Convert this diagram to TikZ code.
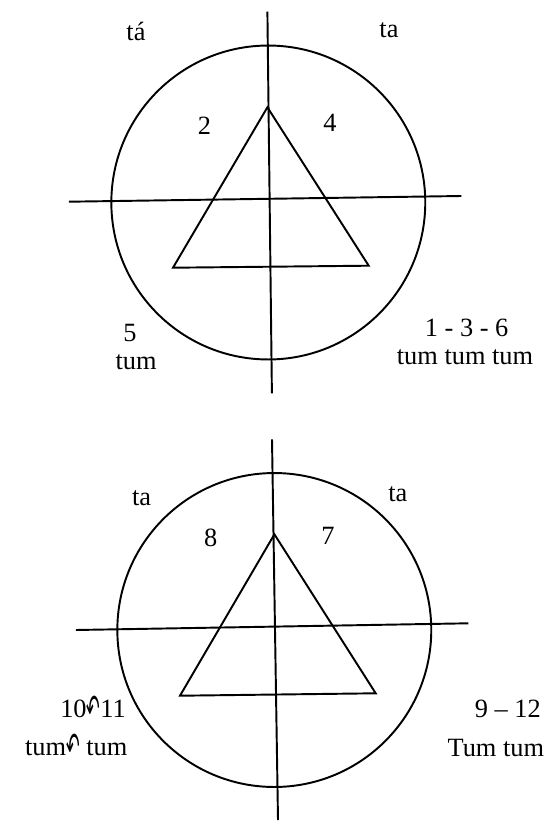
\documentclass[tikz,border=0pt]{standalone}
\usepackage{fontspec}
\setmainfont{Liberation Serif}
\newfontfamily\arcfont{DejaVu Sans}
\newcommand{\tiearc}{\raisebox{-0.22em}{\scalebox{0.62}[1.5]{\arcfont ↶}}}

\begin{document}
\begin{tikzpicture}[x=0.02cm, y=-0.02cm, line width=1.1pt,
    wheel/.style={draw, circle, minimum size=6.28cm, inner sep=0pt},
    syl/.style={anchor=base, inner sep=0pt, font=\fontsize{15}{17}\selectfont}]
    \useasboundingbox (0,0) rectangle (548,821);

    % upper wheel
    \node[wheel] (w1) at (268.3,202.5) {};
    \coordinate (v1t) at (267.4,11.7);
    \coordinate (v1b) at (271.9,393.3);
    \coordinate (h1l) at (68.9,201.7);
    \coordinate (h1r) at (461.4,196);
    \coordinate (t1a) at (267.4,107.3);
    \coordinate (t1b) at (173,267.7);
    \coordinate (t1c) at (368.7,265.7);
    \draw (v1t) -- (v1b);
    \draw (h1l) -- (h1r);
    \draw (t1a) -- (t1b) -- (t1c) -- cycle;

    \node[syl] (s1) at (136,41) {tá};
    \node[syl] (s2) at (389,38) {ta};
    \node[syl] (n2) at (204.5,134) {2};
    \node[syl] (n4) at (330,132) {4};
    \node[syl] (n5) at (130,341) {5};
    \node[syl] (s5) at (136,369) {tum};
    \node[syl] (n136) at (466.6,336) {1 - 3 - 6};
    \node[syl] (s136) at (465,364) {tum tum tum};

    % lower wheel
    \node[wheel] (w2) at (274.3,630) {};
    \coordinate (v2t) at (272,439.3);
    \coordinate (v2b) at (278,820);
    \coordinate (h2l) at (75.8,630);
    \coordinate (h2r) at (468.4,623.3);
    \coordinate (t2a) at (274.4,534.3);
    \coordinate (t2b) at (180,695.7);
    \coordinate (t2c) at (375.7,693.3);
    \draw (v2t) -- (v2b);
    \draw (h2l) -- (h2r);
    \draw (t2a) -- (t2b) -- (t2c) -- cycle;

    \node[syl] (s8) at (141.6,505) {ta};
    \node[syl] (s7) at (397.8,501.7) {ta};
    \node[syl] (n8) at (210.8,546) {8};
    \node[syl] (n7) at (327.9,544) {7};
    \node[syl, anchor=base east] (n1011) at (126.7,717) {10\tiearc11};
    \node[syl, anchor=base east] (s1011) at (128.3,755) {tum\tiearc{} tum};
    \node[syl, anchor=base east] (n912) at (541.7,717) {9 – 12};
    \node[syl, anchor=base east] (s912) at (545,756) {Tum tum};
\end{tikzpicture}
\end{document}
